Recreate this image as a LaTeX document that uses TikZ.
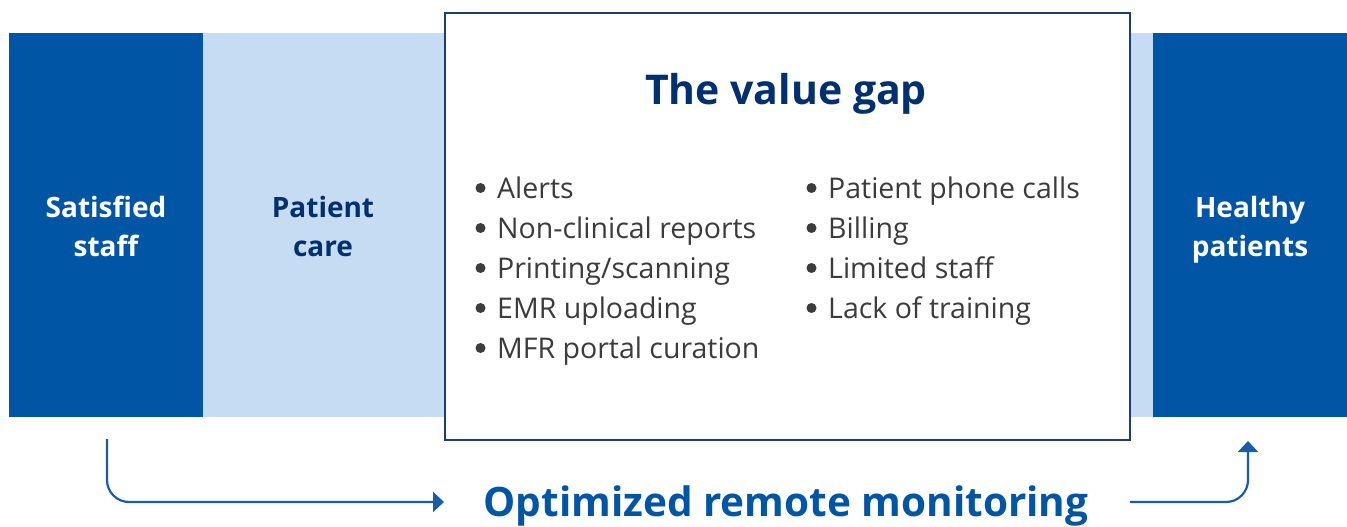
\documentclass[tikz,border=0pt]{standalone}
\usepackage{fontspec}
\setmainfont{Open Sans}
\usetikzlibrary{arrows.meta}
\definecolor{darkblue}{HTML}{0055A4}
\definecolor{lightblue}{HTML}{C6DCF2}
\definecolor{navy}{HTML}{00306F}
\definecolor{boxline}{HTML}{1D3C78}
\definecolor{bodygray}{HTML}{3C3C3C}
\definecolor{arrowblue}{HTML}{1A5CA8}
\tikzset{
  band/.style={fill=#1, draw=none, inner sep=0pt, outer sep=0pt},
  sidelabel/.style={align=center, font=\fontsize{28}{39}\selectfont\bfseries, inner sep=0pt},
  item/.style={anchor=base west, font=\fontsize{28.5}{32}\selectfont, text=bodygray, inner sep=0pt},
  flow/.style={draw=arrowblue, line width=2.2pt, rounded corners=22pt, -{Triangle[length=11pt,width=20pt]}}
}
\begin{document}
\begin{tikzpicture}[x=1pt,y=-1pt]
\useasboundingbox (0,0) rectangle (1347,527);
% bands
\path[band=lightblue] (203,33) rectangle (1153,417);
\node[band=darkblue, minimum width=194pt, minimum height=384pt, anchor=north west] (left) at (9,33) {};
\node[band=darkblue, minimum width=194pt, minimum height=384pt, anchor=north west] (right) at (1153,33) {};
% value gap box
\node[draw=boxline, line width=2.2pt, fill=white, minimum width=685pt, minimum height=427pt, anchor=north west, inner sep=0pt] (gap) at (444,12) {};
% side labels
\node[sidelabel, text=white] (staff) at (106,229) {\strut Satisfied\\\strut staff};
\node[sidelabel, text=navy] (care) at (323,229) {\strut Patient\\\strut care};
\node[sidelabel, text=white] (healthy) at (1250,229) {\strut Healthy\\\strut patients};
% title
\node[anchor=base, font=\fontsize{41}{46}\selectfont\bfseries, text=navy, inner sep=0pt] (title) at (786,104) {The value gap};
% items
\node[item] (i1) at (497,198) {Alerts};
\node[item] (i2) at (497,238) {Non-clinical reports};
\node[item] (i3) at (497,278) {Printing/scanning};
\node[item] (i4) at (497,318) {EMR uploading};
\node[item] (i5) at (497,358) {MFR portal curation};
\node[item] (j1) at (828,198) {Patient phone calls};
\node[item] (j2) at (828,238) {Billing};
\node[item] (j3) at (828,278) {Limited staff};
\node[item] (j4) at (828,318) {Lack of training};
\foreach \n in {i1,i2,i3,i4,i5,j1,j2,j3,j4}
  \fill[bodygray] ([xshift=-16.5pt,yshift=10pt]\n.base west) circle (5pt);
% bottom label
\node[anchor=base, font=\fontsize{40.5}{46}\selectfont\bfseries, text=darkblue, inner sep=0pt] (orm) at (786,516) {Optimized remote monitoring};
% arrows
\coordinate (a1) at (107,439);
\coordinate (a2) at (444,502);
\coordinate (b1) at (1130,502);
\coordinate (b2) at (1248,441);
\draw[flow] (a1) |- (a2);
\draw[flow] (b1) -| (b2);
\end{tikzpicture}
\end{document}
